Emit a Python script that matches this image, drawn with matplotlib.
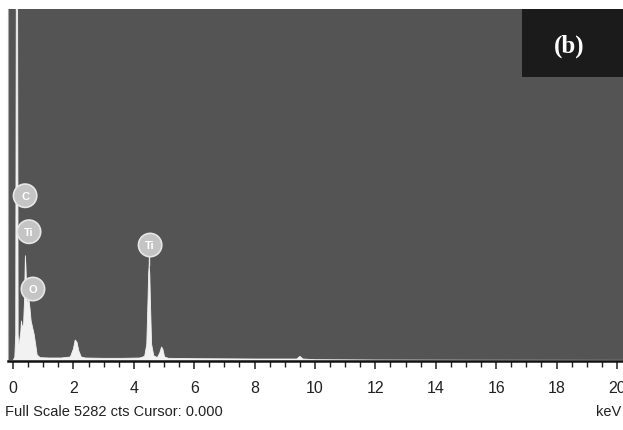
import matplotlib
matplotlib.use('Agg')
import matplotlib.pyplot as plt
from matplotlib.patches import Rectangle
from matplotlib.ticker import MultipleLocator

# EDS spectrum read point by point (energy in keV, counts)
energy = [-0.17, 0.00, 0.06, 0.09, 0.11, 0.13, 0.15, 0.17, 0.19, 0.22, 0.26, 0.28,
          0.31, 0.35, 0.38, 0.41, 0.43, 0.45, 0.48, 0.52, 0.56, 0.60, 0.65, 0.70,
          0.75, 0.80, 0.90, 1.20, 1.60, 1.90, 2.00, 2.06, 2.12, 2.18, 2.26, 2.40,
          3.00, 3.60, 4.20, 4.36, 4.43, 4.47, 4.49, 4.51, 4.53, 4.55, 4.59, 4.66,
          4.78, 4.86, 4.92, 4.96, 5.02, 5.15, 6.00, 8.00, 9.40, 9.50, 9.60, 10.00,
          12.00, 15.00, 20.20]
counts = [0, 0, 60, 400, 6000, 7500, 6000, 400, 250, 300, 450, 600,
          500, 550, 900, 1580, 1400, 1100, 800, 950, 800, 600, 500, 400,
          250, 90, 50, 45, 45, 60, 180, 315, 280, 150, 60, 45,
          40, 40, 45, 70, 250, 900, 1300, 1440, 1300, 900, 250, 80,
          50, 120, 210, 180, 60, 40, 35, 30, 30, 70, 30, 20,
          15, 12, 10]

# element markers: symbol, energy position, label height (counts)
labels = ['C', 'Ti', 'O', 'Ti']
label_keV = [0.40, 0.53, 0.66, 4.54]
label_cts = [2480, 1940, 1080, 1740]

full_scale = 5282
xticks = [0, 2, 4, 6, 8, 10, 12, 14, 16, 18, 20]

W, H = 623, 431
fig = plt.figure(figsize=(W / 100, H / 100), dpi=100)
fig.patch.set_facecolor('white')

# axes box: left edge at x=8 px, right at the image edge, top y=10, bottom y=362
ax = fig.add_axes([8 / W, (H - 362) / H, (W - 8) / W, (362 - 10) / H])
ax.set_facecolor('#545454')
ax.set_xlim(-0.166, 20.2)
ax.set_ylim(0, full_scale)

ax.fill_between(energy, counts, 0, color='#f2f2f2', linewidth=0.6,
                edgecolor='#f2f2f2')

for s in ['top', 'right']:
    ax.spines[s].set_visible(False)
ax.spines['left'].set_color('#a8a8a8')
ax.spines['left'].set_linewidth(0.8)
ax.spines['bottom'].set_color('#111111')
ax.spines['bottom'].set_linewidth(1.8)

sans = ['Liberation Sans', 'DejaVu Sans']
ax.set_yticks([])
ax.set_xticks(xticks)
ax.xaxis.set_minor_locator(MultipleLocator(0.5))
ax.tick_params(axis='x', which='major', direction='out', length=6, width=1.1,
               color='#222222', pad=8)
ax.tick_params(axis='x', which='minor', direction='out', length=4, width=1.0,
               color='#222222')
for lab in ax.get_xticklabels():
    lab.set_family(sans)
    lab.set_fontsize(11.5)
    lab.set_color('#222222')

# peak markers
for sym, xe, yc in zip(labels, label_keV, label_cts):
    ax.text(xe, yc, sym, ha='center', va='center', fontsize=8,
            color='white', family=sans, fontweight='bold', zorder=5,
            bbox=dict(boxstyle='circle,pad=0.6', facecolor='#c4c4c4',
                      edgecolor='#e6e6e6', linewidth=1.2))
ax.plot([4.51, 4.51], [1440, 1560], color='#e6e6e6', linewidth=1.0, zorder=4)

# panel tag box in the top right corner
ax.add_patch(Rectangle((522 / W, (H - 78) / H), (W - 522) / W, 68 / H,
                       transform=fig.transFigure, facecolor='#1b1b1b',
                       edgecolor='none', zorder=6, clip_on=False))
fig.text(569 / W, (H - 46) / H, '(b)', ha='center', va='center', fontsize=18,
         fontweight='bold', color='white',
         family=['Liberation Serif', 'DejaVu Serif'], zorder=7)

fig.text(5 / W, (H - 412) / H, 'Full Scale %d cts Cursor: 0.000' % full_scale,
         ha='left', va='center', fontsize=10.5, color='#222222', family=sans)
fig.text(621 / W, (H - 412) / H, 'keV', ha='right', va='center', fontsize=10.5,
         color='#222222', family=sans)

fig.savefig('out.png', dpi=100, facecolor='white')
